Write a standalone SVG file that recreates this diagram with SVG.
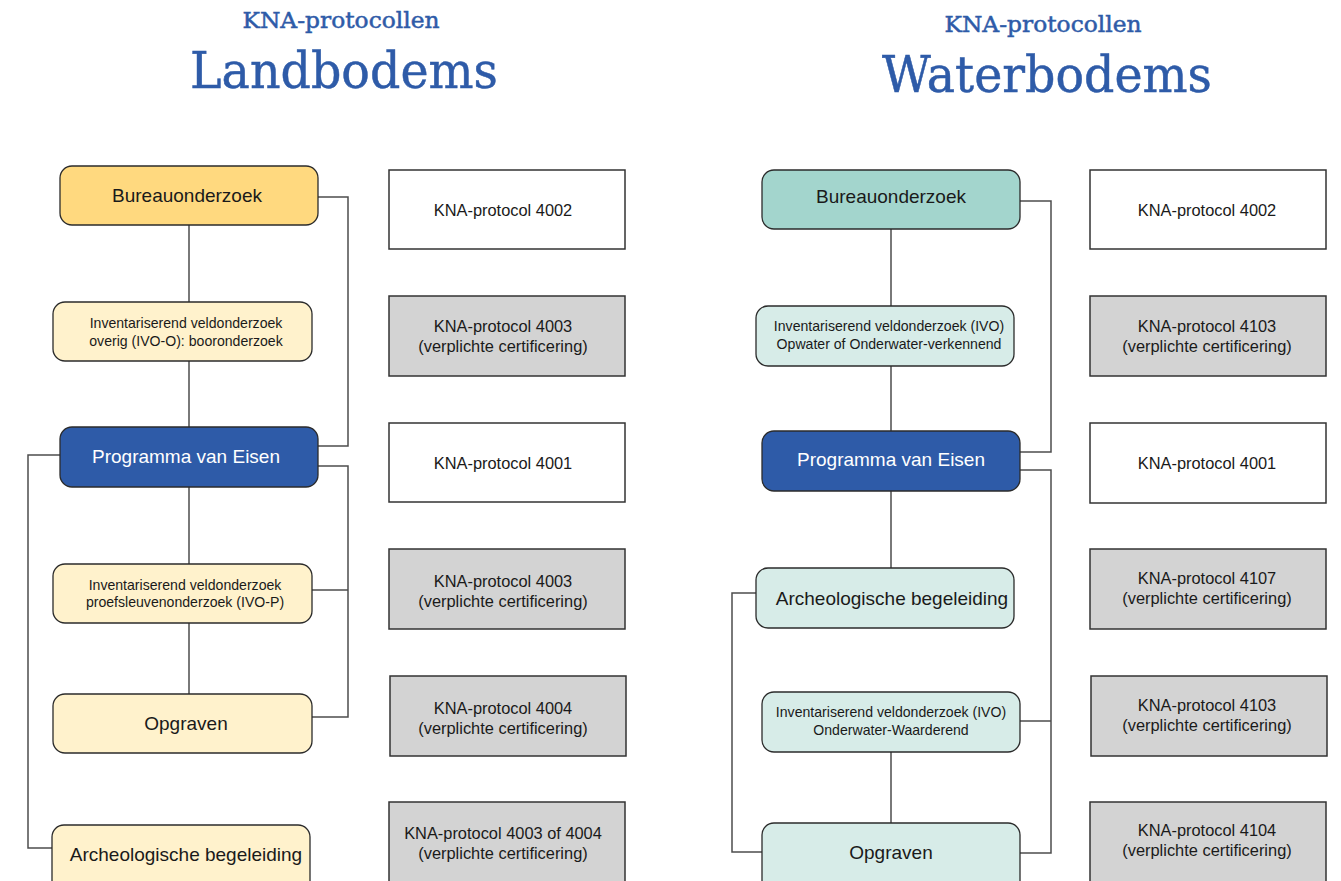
<svg xmlns="http://www.w3.org/2000/svg" width="1341" height="881" viewBox="0 0 1341 881">
<style>
.title{font-family:"DejaVu Serif",serif;fill:#2E5BA8;stroke:#2E5BA8;stroke-width:0.5;text-anchor:middle}
.t{font-family:"Liberation Sans",Arial,sans-serif;fill:#1a1a1a;text-anchor:middle}
.big{font-size:19px}
.sm{font-size:14.1px}
.pt{font-size:16.4px}
.wt{fill:#ffffff}
.node{stroke:#2b2b2b;stroke-width:1.3}
.prot{stroke:#333333;stroke-width:1.5}
.conn{fill:none;stroke:#4d4d4d;stroke-width:1.5}
</style>
<rect width="1341" height="881" fill="#ffffff"/>

<g id="titles">
<text class="title" x="341" y="28" font-size="22" textLength="197" lengthAdjust="spacingAndGlyphs">KNA-protocollen</text>
<text class="title" x="344" y="88" font-size="51" textLength="308" lengthAdjust="spacingAndGlyphs">Landbodems</text>
<text class="title" x="1043" y="32" font-size="22" textLength="197" lengthAdjust="spacingAndGlyphs">KNA-protocollen</text>
<text class="title" x="1047" y="92" font-size="50" textLength="330" lengthAdjust="spacingAndGlyphs">Waterbodems</text>
</g>

<g id="connectors">
<line class="conn" x1="189" y1="225" x2="189" y2="302"/>
<line class="conn" x1="189" y1="361" x2="189" y2="427"/>
<line class="conn" x1="189" y1="487" x2="189" y2="564"/>
<line class="conn" x1="189" y1="623" x2="189" y2="694"/>
<polyline class="conn" points="318,197 348,197 348,446 318,446"/>
<polyline class="conn" points="318,466 348,466 348,717 312,717"/>
<line class="conn" x1="312" y1="590" x2="348" y2="590"/>
<polyline class="conn" points="60,455 28,455 28,848 52,848"/>

<line class="conn" x1="891" y1="229" x2="891" y2="306"/>
<line class="conn" x1="891" y1="366" x2="891" y2="431"/>
<line class="conn" x1="891" y1="491" x2="891" y2="568"/>
<line class="conn" x1="891" y1="752" x2="891" y2="823"/>
<polyline class="conn" points="1020,201 1051,201 1051,452 1020,452"/>
<polyline class="conn" points="1020,470 1051,470 1051,853 1020,853"/>
<line class="conn" x1="1020" y1="721" x2="1051" y2="721"/>
<polyline class="conn" points="756,593 732,593 732,852 762,852"/>
</g>

<!-- Left column nodes -->
<g id="L-bureau">
<rect class="node" x="60" y="166" width="258" height="59" rx="12" fill="#FFD97F"/>
<text class="t big" x="187" y="202">Bureauonderzoek</text>
</g>
<g id="L-ivo-o">
<rect class="node" x="53" y="302" width="259" height="59" rx="12" fill="#FFF2CC"/>
<text class="t sm" x="186" y="328">Inventariserend veldonderzoek</text>
<text class="t sm" x="186" y="346">overig (IVO-O): booronderzoek</text>
</g>
<g id="L-pve">
<rect class="node" x="60" y="427" width="258" height="60" rx="12" fill="#2E5BA8"/>
<text class="t big wt" x="186" y="463">Programma van Eisen</text>
</g>
<g id="L-ivo-p">
<rect class="node" x="53" y="564" width="259" height="59" rx="12" fill="#FFF2CC"/>
<text class="t sm" x="185" y="590">Inventariserend veldonderzoek</text>
<text class="t sm" x="185" y="607">proefsleuvenonderzoek (IVO-P)</text>
</g>
<g id="L-opgraven">
<rect class="node" x="53" y="694" width="259" height="59" rx="12" fill="#FFF2CC"/>
<text class="t big" x="186" y="730">Opgraven</text>
</g>
<g id="L-arch">
<rect class="node" x="52" y="825" width="258" height="70" rx="12" fill="#FFF2CC"/>
<text class="t big" x="186" y="861">Archeologische begeleiding</text>
</g>

<!-- Left protocol boxes -->
<g id="L-p4002">
<rect class="prot" x="389" y="170" width="236" height="79" fill="#ffffff"/>
<text class="t pt" x="503" y="216">KNA-protocol 4002</text>
</g>
<g id="L-p4003a">
<rect class="prot" x="389" y="296" width="236" height="80" fill="#D3D3D3"/>
<text class="t pt" x="503" y="332">KNA-protocol 4003</text>
<text class="t pt" x="503" y="352">(verplichte certificering)</text>
</g>
<g id="L-p4001">
<rect class="prot" x="389" y="423" width="236" height="79" fill="#ffffff"/>
<text class="t pt" x="503" y="469">KNA-protocol 4001</text>
</g>
<g id="L-p4003b">
<rect class="prot" x="389" y="549" width="236" height="80" fill="#D3D3D3"/>
<text class="t pt" x="503" y="587">KNA-protocol 4003</text>
<text class="t pt" x="503" y="607">(verplichte certificering)</text>
</g>
<g id="L-p4004">
<rect class="prot" x="390" y="676" width="236" height="80" fill="#D3D3D3"/>
<text class="t pt" x="503" y="714">KNA-protocol 4004</text>
<text class="t pt" x="503" y="734">(verplichte certificering)</text>
</g>
<g id="L-p4003of4004">
<rect class="prot" x="389" y="802" width="236" height="90" fill="#D3D3D3"/>
<text class="t pt" x="503" y="839">KNA-protocol 4003 of 4004</text>
<text class="t pt" x="503" y="859">(verplichte certificering)</text>
</g>

<!-- Right column nodes -->
<g id="R-bureau">
<rect class="node" x="762" y="170" width="258" height="59" rx="12" fill="#A3D5CD"/>
<text class="t big" x="891" y="203">Bureauonderzoek</text>
</g>
<g id="R-ivo-v">
<rect class="node" x="756" y="306" width="258" height="60" rx="12" fill="#D7ECE8"/>
<text class="t sm" x="889" y="331">Inventariserend veldonderzoek (IVO)</text>
<text class="t sm" x="889" y="349">Opwater of Onderwater-verkennend</text>
</g>
<g id="R-pve">
<rect class="node" x="762" y="431" width="258" height="60" rx="12" fill="#2E5BA8"/>
<text class="t big wt" x="891" y="466">Programma van Eisen</text>
</g>
<g id="R-arch">
<rect class="node" x="756" y="568" width="258" height="60" rx="12" fill="#D7ECE8"/>
<text class="t big" x="892" y="605">Archeologische begeleiding</text>
</g>
<g id="R-ivo-w">
<rect class="node" x="762" y="692" width="258" height="60" rx="12" fill="#D7ECE8"/>
<text class="t sm" x="891" y="717">Inventariserend veldonderzoek (IVO)</text>
<text class="t sm" x="891" y="735">Onderwater-Waarderend</text>
</g>
<g id="R-opgraven">
<rect class="node" x="762" y="823" width="258" height="70" rx="12" fill="#D7ECE8"/>
<text class="t big" x="891" y="859">Opgraven</text>
</g>

<!-- Right protocol boxes -->
<g id="R-p4002">
<rect class="prot" x="1090" y="170" width="236" height="79" fill="#ffffff"/>
<text class="t pt" x="1207" y="216">KNA-protocol 4002</text>
</g>
<g id="R-p4103a">
<rect class="prot" x="1090" y="296" width="236" height="80" fill="#D3D3D3"/>
<text class="t pt" x="1207" y="332">KNA-protocol 4103</text>
<text class="t pt" x="1207" y="352">(verplichte certificering)</text>
</g>
<g id="R-p4001">
<rect class="prot" x="1090" y="423" width="236" height="80" fill="#ffffff"/>
<text class="t pt" x="1207" y="469">KNA-protocol 4001</text>
</g>
<g id="R-p4107">
<rect class="prot" x="1090" y="549" width="236" height="80" fill="#D3D3D3"/>
<text class="t pt" x="1207" y="584">KNA-protocol 4107</text>
<text class="t pt" x="1207" y="604">(verplichte certificering)</text>
</g>
<g id="R-p4103b">
<rect class="prot" x="1091" y="676" width="236" height="80" fill="#D3D3D3"/>
<text class="t pt" x="1207" y="711">KNA-protocol 4103</text>
<text class="t pt" x="1207" y="731">(verplichte certificering)</text>
</g>
<g id="R-p4104">
<rect class="prot" x="1090" y="802" width="236" height="90" fill="#D3D3D3"/>
<text class="t pt" x="1207" y="836">KNA-protocol 4104</text>
<text class="t pt" x="1207" y="856">(verplichte certificering)</text>
</g>
</svg>
